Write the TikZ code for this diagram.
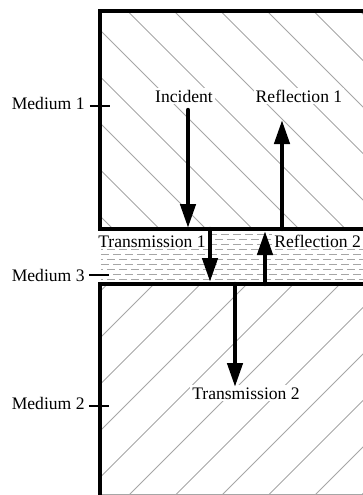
\documentclass[tikz,border=0pt]{standalone}
\usepackage{fontspec}
\setmainfont{Liberation Serif}
\usetikzlibrary{arrows.meta}

\begin{document}
\begin{tikzpicture}[x=0.5pt, y=0.5pt,
  wall/.style={line width=2pt},
  hatch/.style={draw=black!35, line width=0.5pt},
  film/.style={draw=black!35, line width=0.5pt, dash pattern=on 4pt off 2pt},
  ray/.style={line width=2.2pt, line cap=round, -{Triangle[length=12pt, width=7.5pt]}},
  tick/.style={line width=1pt},
  lbl/.style={font=\fontsize{8.8}{10}\selectfont, inner sep=0pt},
  inlbl/.style={lbl, fill=white, inner sep=1pt}
]
\useasboundingbox (0,0) rectangle (363,495);

\begin{scope}
  \clip (100,266) rectangle (363,484);
  \foreach \k [evaluate=\k as \c using 565+46.5*\k] in {-4,...,6}
    \draw[hatch] (\c-484,484) -- (\c-266,266);
\end{scope}
\begin{scope}
  \clip (100,0) rectangle (363,211);
  \foreach \k [evaluate=\k as \c using -57+46.5*\k] in {-1,...,9}
    \draw[hatch] (\c,0) -- (\c+211,211);
\end{scope}
\foreach \y [count=\i] in {216,221,...,261}
  \draw[film, dash phase={mod(\i,2)*3pt}] (101,\y) -- (363,\y);
\draw[hatch] (100,0.5) -- (363,0.5);

\draw[wall] (363,484) -- (100,484) -- (100,266) -- (363,266);
\draw[wall] (363,211) -- (100,211) -- (100,0);

\node[lbl, anchor=base east] (med1) at (85,386) {Medium 1};
\node[lbl, anchor=base east] (med3) at (85,214) {Medium 3};
\node[lbl, anchor=base east] (med2) at (85,86) {Medium 2};
\draw[tick] (90,389) -- (110,389);
\draw[tick] (89,220) -- (109,220);
\draw[tick] (89,89) -- (109,89);

\node[inlbl, anchor=base] (inc) at (184,393) {Incident};
\node[inlbl, anchor=base] (ref1) at (299,393) {Reflection 1};
\node[inlbl, anchor=base] (tra1) at (152,248) {Transmission 1};
\node[inlbl, anchor=base west] (ref2) at (272,248) {Reflection 2};
\node[inlbl, anchor=base] (tra2) at (246,96) {Transmission 2};

\coordinate (incA) at (188,385);
\coordinate (incB) at (188,267);
\coordinate (ref1A) at (282,266);
\coordinate (ref1B) at (282,375);
\coordinate (tra1A) at (210,266);
\coordinate (tra1B) at (210,213);
\coordinate (ref2A) at (265,211);
\coordinate (ref2B) at (265,264);
\coordinate (tra2A) at (235,211);
\coordinate (tra2B) at (235,108);

\draw[ray] (incA) -- (incB);
\draw[ray] (ref1A) -- (ref1B);
\draw[ray] (tra1A) -- (tra1B);
\draw[ray] (ref2A) -- (ref2B);
\draw[ray] (tra2A) -- (tra2B);
\end{tikzpicture}
\end{document}
